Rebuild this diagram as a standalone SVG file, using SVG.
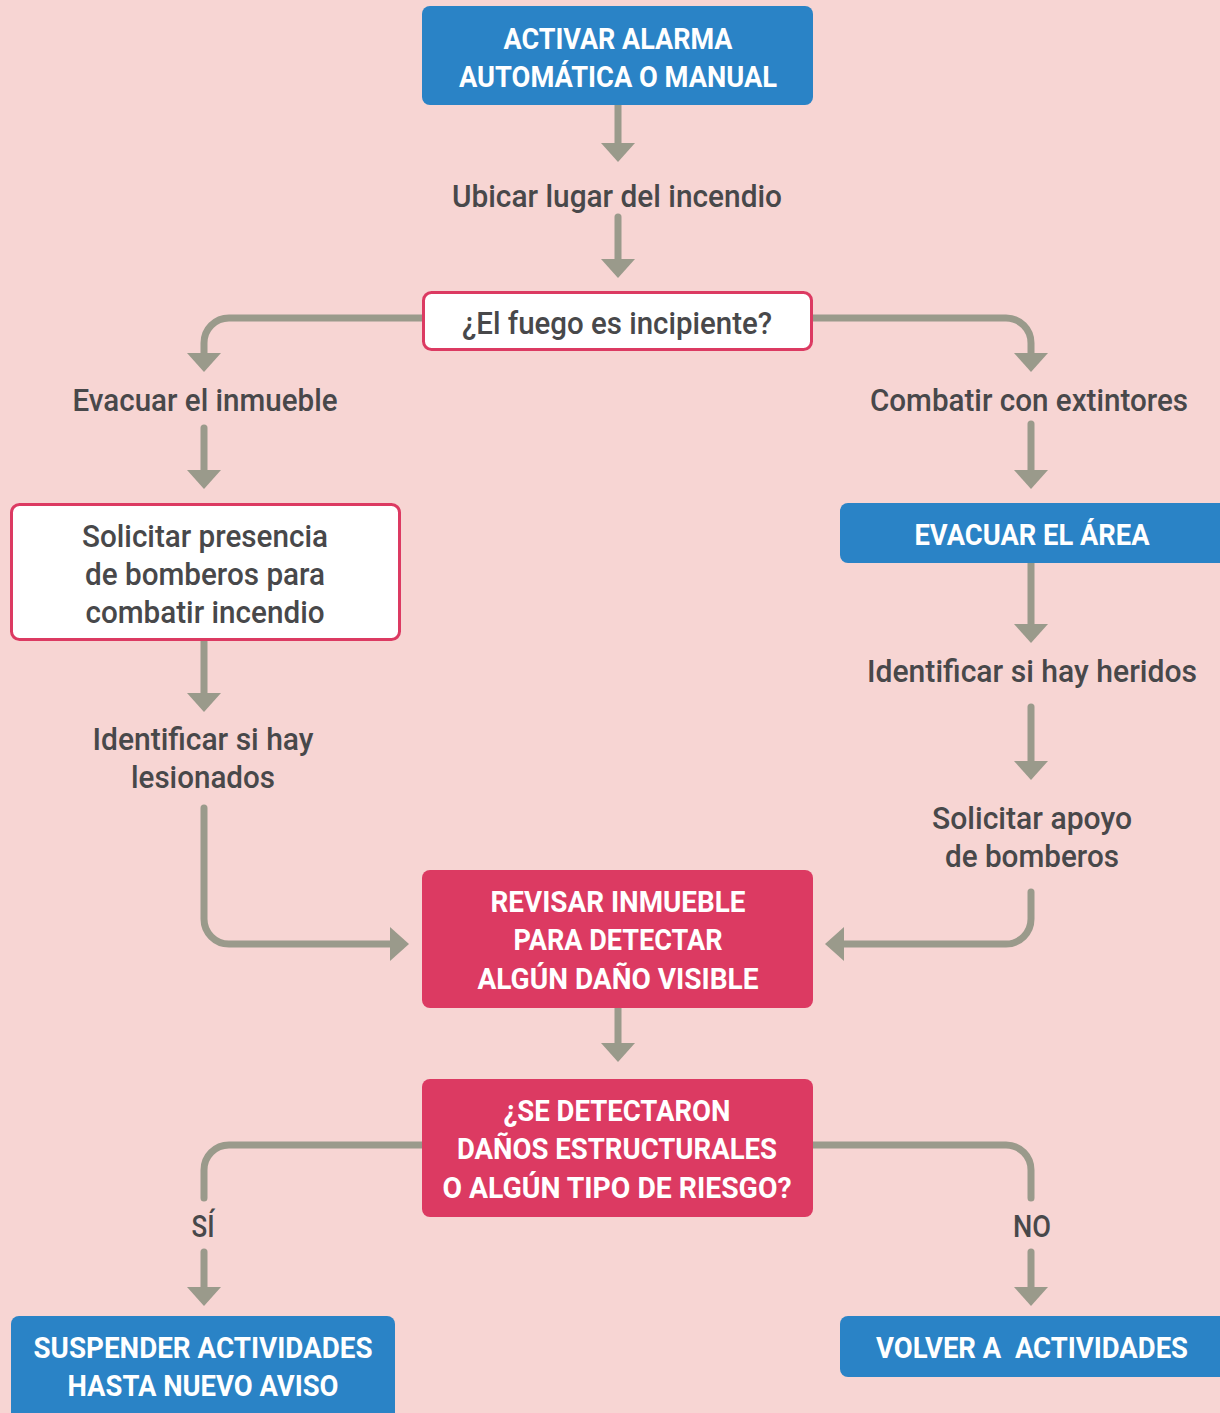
<svg xmlns="http://www.w3.org/2000/svg" width="1220" height="1413" viewBox="0 0 1220 1413">
<defs>
<style>
.bg{fill:#F7D5D3}
.blue{fill:#2A83C6}
.red{fill:#DC3A62}
.white{fill:#FFFFFF;stroke:#DC3A62;stroke-width:3}
.cap{font-family:Roboto,"Liberation Sans",sans-serif;font-weight:700;font-size:30px;fill:#FFFFFF;text-anchor:middle}
.lbl{font-family:Roboto,"Liberation Sans",sans-serif;font-weight:500;font-size:32px;fill:#48484A;text-anchor:middle}
.con{fill:none;stroke:#9A9A8B;stroke-width:7;stroke-linecap:round;stroke-linejoin:round}
</style>
<marker id="ah" markerUnits="userSpaceOnUse" markerWidth="20" markerHeight="36" refX="0" refY="18" orient="auto" overflow="visible">
<path d="M0,1 L19,18 L0,35 Z" fill="#9A9A8B"/>
</marker>
</defs>
<rect class="bg" x="0" y="0" width="1220" height="1413"/>
<g id="connectors">
<path class="con" d="M618,105 V143" marker-end="url(#ah)"/>
<path class="con" d="M618,217 V259" marker-end="url(#ah)"/>
<path class="con" d="M423,318 H229 A25,25 0 0 0 204,343 V353" marker-end="url(#ah)"/>
<path class="con" d="M812,318 H1006 A25,25 0 0 1 1031,343 V353" marker-end="url(#ah)"/>
<path class="con" d="M204,428 V470" marker-end="url(#ah)"/>
<path class="con" d="M1031,424 V470" marker-end="url(#ah)"/>
<path class="con" d="M204,640 V693" marker-end="url(#ah)"/>
<path class="con" d="M1031,563 V624" marker-end="url(#ah)"/>
<path class="con" d="M1031,707 V761" marker-end="url(#ah)"/>
<path class="con" d="M204,808 V919 A25,25 0 0 0 229,944 H390" marker-end="url(#ah)"/>
<path class="con" d="M1031,892 V919 A25,25 0 0 1 1006,944 H844" marker-end="url(#ah)"/>
<path class="con" d="M618,1008 V1043" marker-end="url(#ah)"/>
<path class="con" d="M422,1145 H229 A25,25 0 0 0 204,1170 V1198"/>
<path class="con" d="M204,1252 V1287" marker-end="url(#ah)"/>
<path class="con" d="M813,1145 H1006 A25,25 0 0 1 1031,1170 V1198"/>
<path class="con" d="M1031,1252 V1287" marker-end="url(#ah)"/>
</g>
<g id="n-activar">
<rect class="blue" x="422" y="6" width="391" height="99" rx="8"/>
<text class="cap" x="618" y="49" textLength="229" lengthAdjust="spacingAndGlyphs">ACTIVAR ALARMA</text>
<text class="cap" x="618" y="87" textLength="318" lengthAdjust="spacingAndGlyphs">AUTOMÁTICA O MANUAL</text>
</g>
<g id="n-ubicar">
<text class="lbl" x="617" y="207" textLength="330" lengthAdjust="spacingAndGlyphs">Ubicar lugar del incendio</text>
</g>
<g id="n-fuego">
<rect class="white" x="423.5" y="292.5" width="388" height="57" rx="8"/>
<text class="lbl" x="617" y="334" textLength="310" lengthAdjust="spacingAndGlyphs">¿El fuego es incipiente?</text>
</g>
<g id="n-evacuar-inmueble">
<text class="lbl" x="205" y="411" textLength="265" lengthAdjust="spacingAndGlyphs">Evacuar el inmueble</text>
</g>
<g id="n-combatir">
<text class="lbl" x="1029" y="411" textLength="318" lengthAdjust="spacingAndGlyphs">Combatir con extintores</text>
</g>
<g id="n-solicitar-presencia">
<rect class="white" x="11.5" y="504.5" width="388" height="135" rx="8"/>
<text class="lbl" x="205" y="547" textLength="246" lengthAdjust="spacingAndGlyphs">Solicitar presencia</text>
<text class="lbl" x="205" y="585" textLength="240" lengthAdjust="spacingAndGlyphs">de bomberos para</text>
<text class="lbl" x="205" y="623" textLength="239" lengthAdjust="spacingAndGlyphs">combatir incendio</text>
</g>
<g id="n-evacuar-area">
<rect class="blue" x="840" y="503" width="392" height="60" rx="8"/>
<text class="cap" x="1032" y="545" textLength="235" lengthAdjust="spacingAndGlyphs">EVACUAR EL ÁREA</text>
</g>
<g id="n-heridos">
<text class="lbl" x="1032" y="682" textLength="330" lengthAdjust="spacingAndGlyphs">Identificar si hay heridos</text>
</g>
<g id="n-lesionados">
<text class="lbl" x="203" y="750" textLength="221" lengthAdjust="spacingAndGlyphs">Identificar si hay</text>
<text class="lbl" x="203" y="788" textLength="144" lengthAdjust="spacingAndGlyphs">lesionados</text>
</g>
<g id="n-apoyo">
<text class="lbl" x="1032" y="829" textLength="200" lengthAdjust="spacingAndGlyphs">Solicitar apoyo</text>
<text class="lbl" x="1032" y="867" textLength="174" lengthAdjust="spacingAndGlyphs">de bomberos</text>
</g>
<g id="n-revisar">
<rect class="red" x="422" y="870" width="391" height="138" rx="8"/>
<text class="cap" x="618" y="912" textLength="255" lengthAdjust="spacingAndGlyphs">REVISAR INMUEBLE</text>
<text class="cap" x="618" y="950" textLength="209" lengthAdjust="spacingAndGlyphs">PARA DETECTAR</text>
<text class="cap" x="618" y="989" textLength="281" lengthAdjust="spacingAndGlyphs">ALGÚN DAÑO VISIBLE</text>
</g>
<g id="n-danos">
<rect class="red" x="422" y="1079" width="391" height="138" rx="8"/>
<text class="cap" x="617" y="1121" textLength="227" lengthAdjust="spacingAndGlyphs">¿SE DETECTARON</text>
<text class="cap" x="617" y="1159" textLength="320" lengthAdjust="spacingAndGlyphs">DAÑOS ESTRUCTURALES</text>
<text class="cap" x="617" y="1198" textLength="349" lengthAdjust="spacingAndGlyphs">O ALGÚN TIPO DE RIESGO?</text>
</g>
<g id="n-si">
<text class="lbl" x="203" y="1237" textLength="23" lengthAdjust="spacingAndGlyphs">SÍ</text>
</g>
<g id="n-no">
<text class="lbl" x="1032" y="1237" textLength="38" lengthAdjust="spacingAndGlyphs">NO</text>
</g>
<g id="n-suspender">
<rect class="blue" x="11" y="1316" width="384" height="110" rx="8"/>
<text class="cap" x="203" y="1358" textLength="339" lengthAdjust="spacingAndGlyphs">SUSPENDER ACTIVIDADES</text>
<text class="cap" x="203" y="1396" textLength="271" lengthAdjust="spacingAndGlyphs">HASTA NUEVO AVISO</text>
</g>
<g id="n-volver">
<rect class="blue" x="840" y="1316" width="392" height="61" rx="8"/>
<text class="cap" x="1032" y="1358" textLength="312" lengthAdjust="spacingAndGlyphs" xml:space="preserve">VOLVER A  ACTIVIDADES</text>
</g>
</svg>
